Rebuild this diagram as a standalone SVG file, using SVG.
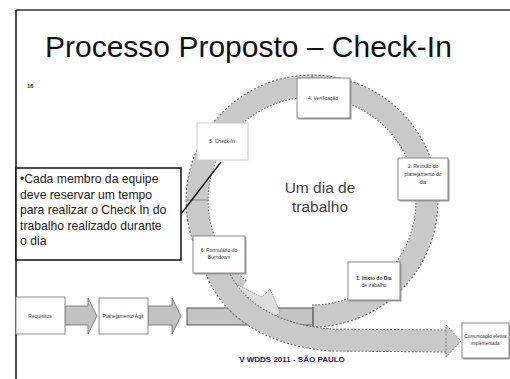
<svg xmlns="http://www.w3.org/2000/svg" width="510" height="379" viewBox="0 0 510 379">
<style>
text{font-family:"Liberation Sans",Arial,sans-serif}
.t{font-size:5px;fill:#333;text-anchor:middle}
.box{fill:#fff;stroke:#8a8a8a;stroke-width:1}
.sh{fill:#9a9a9a}
.edge{fill:none;stroke:#6e6e6e;stroke-width:23;stroke-dasharray:2 1.6}
.band{fill:none;stroke:#c9c9c9;stroke-width:21}
.arr{fill:#c2c2c2;stroke:#6a6a6a;stroke-width:0.8}
</style>
<rect width="510" height="379" fill="#fff"/>
<g id="frame">
<line x1="16" y1="10" x2="510" y2="10" stroke="#333" stroke-width="1.5"/>
<line x1="16" y1="10" x2="16" y2="379" stroke="#111" stroke-width="1.5"/>
</g>
<text x="45" y="57" font-size="30" fill="#111">Processo Proposto – Check-In</text>
<text x="27" y="88" font-size="6" font-weight="bold" fill="#333">16</text>
<g id="connectors">
<rect x="187" y="308" width="126" height="17" fill="#c4c4c4" stroke="#555" stroke-width="1"/>
<path class="edge" d="M312 316 A115 115 0 0 0 427 201 A115 115 0 0 0 312 86 A115 115 0 0 0 197 201 A115 115 0 0 0 240 290"/>
<path class="band" d="M312 316 A115 115 0 0 0 427 201 A115 115 0 0 0 312 86 A115 115 0 0 0 197 201 A115 115 0 0 0 240 290"/>
<line x1="313" y1="307" x2="313" y2="326" stroke="#444" stroke-width="1.2"/>
<line x1="312" y1="75" x2="312" y2="86" stroke="#777" stroke-width="0.8"/>
<line x1="187" y1="200" x2="209" y2="200" stroke="#777" stroke-width="0.8"/>
<polygon points="236,284 262,297 270,289 280,312 266,326 248,316" fill="#dedede" stroke="#666" stroke-width="0.8" stroke-dasharray="1 1.2"/>
<path class="edge" d="M210 238 C212 290 250 333 330 340 L447 341"/>
<path class="band" d="M210 238 C212 290 250 333 330 340 L447 341"/>
<polygon points="446,325 461,341 446,357" fill="#c9c9c9" stroke="#6e6e6e" stroke-width="0.8" stroke-dasharray="2 1.6"/>
<path class="arr" d="M65 306 H88 V298 L97 316 L88 334 V325 H65 Z"/>
<path class="arr" d="M148 306 H172 V298 L181 316 L172 334 V325 H148 Z"/>
<line x1="181" y1="214" x2="221" y2="162" stroke="#111" stroke-width="1.3"/>
</g>
<g id="n-requisitos">
<rect class="box" x="16" y="297" width="49" height="37"/>
<text class="t" x="40" y="318">Requisitos</text>
</g>
<g id="n-planejamento">
<rect class="box" x="99" y="298" width="49" height="36"/>
<text class="t" x="123" y="318">Planejamento Ágil</text>
</g>
<g id="n-1">
<rect class="sh" x="349.5" y="263.5" width="52" height="38"/>
<rect class="box" x="348" y="262" width="52" height="38"/>
<text class="t" x="374" y="280" font-weight="bold">1. Início do Dia</text>
<text class="t" x="374" y="287">de trabalho</text>
</g>
<g id="n-2">
<rect class="sh" x="399.5" y="159.5" width="50" height="42"/>
<rect class="box" x="398" y="158" width="50" height="42"/>
<text class="t" x="423" y="168">2. Revisão do</text>
<text class="t" x="423" y="176">planejamento do</text>
<text class="t" x="423" y="184">dia</text>
</g>
<g id="n-4">
<rect class="sh" x="298.5" y="79.5" width="53" height="40"/>
<rect class="box" x="297" y="78" width="53" height="40"/>
<text class="t" x="323" y="100">4. Verificação</text>
</g>
<g id="n-5">
<rect class="box" x="197" y="123" width="51" height="37" style="stroke:#ccc"/>
<text class="t" x="222" y="143">5. Check-In</text>
</g>
<g id="n-6">
<rect class="sh" x="194.5" y="237.5" width="52" height="37"/>
<rect class="box" x="193" y="236" width="52" height="37"/>
<text class="t" x="219" y="252">6. Formulário do</text>
<text class="t" x="219" y="259">Burndown</text>
</g>
<g id="n-final">
<rect class="sh" x="463.5" y="324.5" width="47" height="35"/>
<rect class="box" x="462" y="323" width="47" height="35"/>
<text class="t" x="485.5" y="338" style="font-size:4.5px">Comunicação efetiva</text>
<text class="t" x="485.5" y="345" style="font-size:4.5px">implementada</text>
</g>
<g id="callout">
<rect x="16" y="168" width="165" height="92" fill="#fff" stroke="#111" stroke-width="1.5"/>
<text font-size="12.2" fill="#222">
<tspan x="20" y="183">•Cada membro da equipe</tspan>
<tspan x="20" y="198.5">deve reservar um tempo</tspan>
<tspan x="20" y="214">para realizar o Check In do</tspan>
<tspan x="20" y="229.5">trabalho realizado durante</tspan>
<tspan x="20" y="245">o dia</tspan>
</text>
</g>
<g id="center-label">
<text x="320" y="193" font-size="15.5" fill="#444" text-anchor="middle">Um dia de</text>
<text x="320" y="212" font-size="15.5" fill="#444" text-anchor="middle">trabalho</text>
</g>
<text x="292" y="362" font-size="8" font-weight="bold" fill="#1e1e5a" text-anchor="middle">V WDDS 2011 - SÃO PAULO</text>
</svg>
